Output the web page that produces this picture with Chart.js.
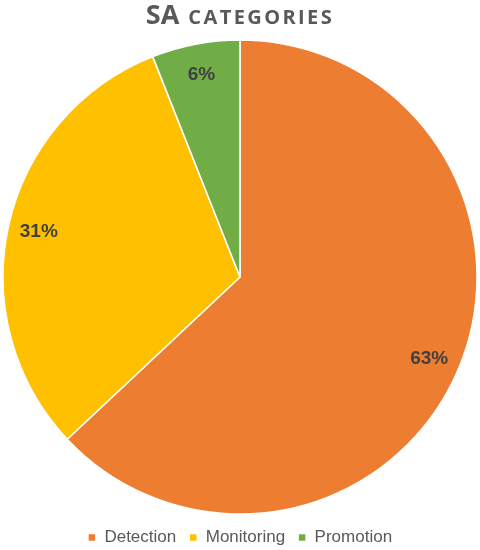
<!DOCTYPE html>
<html>
<head>
<meta charset="utf-8">
<script src="https://cdn.jsdelivr.net/npm/chart.js@4"></script>
<style>
  html, body { margin: 0; padding: 0; background: #fff; }
  #wrap { width: 480px; height: 550px; }
</style>
</head>
<body>
<div id="wrap"><canvas id="chart-sa"></canvas></div>
<script>
var labels = ['Detection', 'Monitoring', 'Promotion'];
var shares = [63, 31, 6];
var colors = ['#ED7D31', '#FFC000', '#70AD47'];

// title with small caps look: big "SA", smaller "CATEGORIES"
var titlePlugin = {
  id: 'smallCapsTitle',
  afterDraw: function (chart) {
    var ctx = chart.ctx;
    ctx.save();
    ctx.fillStyle = '#595959';
    ctx.textBaseline = 'alphabetic';
    var big = 'bold 27px "Open Sans"';
    var small = 'bold 20px "Open Sans"';
    ctx.font = big;
    var w1 = ctx.measureText('SA').width + 9;
    ctx.font = small;
    ctx.letterSpacing = '2.4px';
    var w2 = ctx.measureText('CATEGORIES').width;
    var x = chart.width / 2 - (w1 + w2) / 2;
    ctx.fillText('CATEGORIES', x + w1, 24);
    ctx.letterSpacing = '0px';
    ctx.font = big;
    ctx.fillText('SA', x, 24);
    ctx.restore();
  }
};

// percent labels inside the slices
var sliceLabels = {
  id: 'sliceLabels',
  afterDatasetsDraw: function (chart) {
    var ctx = chart.ctx;
    var meta = chart.getDatasetMeta(0);
    ctx.save();
    ctx.font = 'bold 19px "Liberation Sans"';
    ctx.fillStyle = '#404040';
    ctx.textAlign = 'center';
    ctx.textBaseline = 'middle';
    meta.data.forEach(function (arc, i) {
      var mid = (arc.startAngle + arc.endAngle) / 2;
      var r = arc.outerRadius * 0.87;
      ctx.fillText(shares[i] + '%', arc.x + Math.cos(mid) * r, arc.y + Math.sin(mid) * r);
    });
    ctx.restore();
  }
};

// push the legend row down closer to the bottom edge
var legendNudge = {
  id: 'legendNudge',
  afterLayout: function (chart) {
    if (!chart.legend) return;
    chart.legend.top += 6;
    chart.legend.bottom += 6;
  }
};

new Chart(document.getElementById('chart-sa'), {
  type: 'pie',
  data: {
    labels: labels,
    datasets: [{
      data: shares,
      backgroundColor: colors,
      borderColor: '#ffffff',
      borderWidth: 1.5,
      radius: 237,
      clip: false
    }]
  },
  options: {
    responsive: true, maintainAspectRatio: false,
    animation: false,
    layout: { padding: { top: 44, left: 3, right: 3, bottom: 0 } },
    plugins: {
      legend: {
        position: 'bottom',
        labels: {
          boxWidth: 8, boxHeight: 8,
          color: '#595959',
          font: { family: '"Liberation Sans"', size: 17 },
          padding: 13
        }
      },
      tooltip: { enabled: false }
    }
  },
  plugins: [titlePlugin, sliceLabels, legendNudge]
});
</script>
</body>
</html>
